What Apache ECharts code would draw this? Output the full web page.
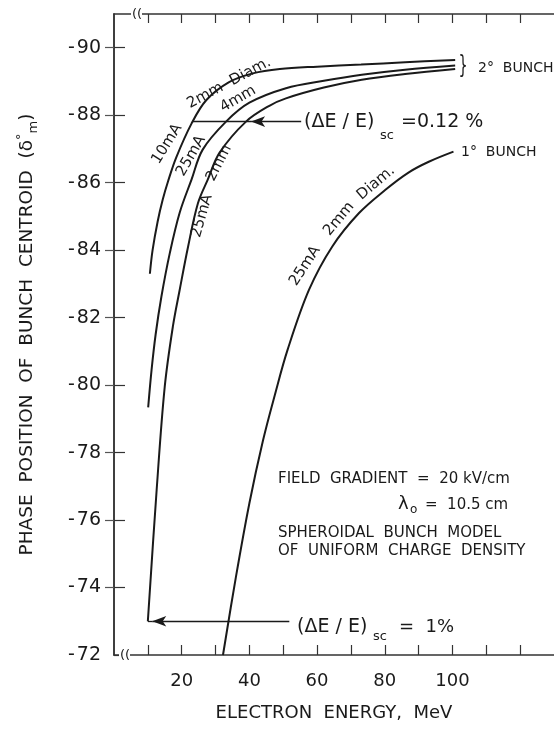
<!DOCTYPE html>
<html><head><meta charset="utf-8">
<script src="https://cdn.jsdelivr.net/npm/echarts@6/dist/echarts.min.js"></script>
<style>html,body{margin:0;padding:0;background:#fff}#c{width:554px;height:729px}</style>
</head><body><div id="c"></div>
<script>
// ---- data ----
const xTickValues = [10, 20, 30, 40, 50, 60, 70, 80, 90, 100, 110, 120];
const xLabelValues = [20, 40, 60, 80, 100];
const yLabelValues = [-90, -88, -86, -84, -82, -80, -78, -76, -74, -72];
const yRightTicks = [-90, -88, -86, -84, -82, -80, -78, -76, -74];

// 2° bunch, 10 mA, 2 mm diam.
const energyA = [10.6, 11.4, 12.9, 14.4, 16, 18.4, 22.9, 27.3, 34, 41, 49, 60, 73, 86, 100.8];
const phaseA  = [-83.3, -84.0, -84.85, -85.5, -86.05, -86.75, -87.75, -88.45, -88.98, -89.24, -89.37, -89.44, -89.5, -89.57, -89.64];
// 2° bunch, 25 mA, 4 mm
const energyB = [10.1, 11.1, 12.3, 14.0, 16.5, 19.4, 22.9, 26.2, 33.1, 40.0, 50.8, 62, 73.2, 86, 100.8];
const phaseB  = [-79.34, -80.45, -81.5, -82.62, -83.92, -85.11, -86.09, -86.98, -87.81, -88.37, -88.8, -89.02, -89.2, -89.35, -89.47];
// 2° bunch, 25 mA, 2 mm
const energyC = [10, 12.6, 15.0, 17.4, 19.4, 21.9, 24.8, 27.7, 31.2, 39.0, 45.9, 50.8, 62, 73.2, 86, 100.8];
const phaseC  = [-73.0, -76.89, -79.96, -81.74, -82.82, -84.11, -85.39, -86.09, -86.89, -87.81, -88.28, -88.5, -88.82, -89.05, -89.22, -89.37];
// 1° bunch, 25 mA, 2 mm diam.
const energyD = [32.2, 36, 40, 44, 47.5, 51.3, 57.6, 64.5, 72.4, 80.2, 87, 93, 100.3];
const phaseD  = [-72.0, -74.3, -76.5, -78.35, -79.7, -81.05, -82.82, -84.11, -85.1, -85.79, -86.3, -86.62, -86.92];

const zip = (xs, ys) => xs.map((x, i) => [x, ys[i]]);

const FONT = 'DejaVu Sans';
const INK = '#1a1a1a';

function T(x, y, text, size, rotDeg, align, extra) {
  return Object.assign({
    type: 'text', x: x, y: y, rotation: (rotDeg || 0) * Math.PI / 180, z: 100,
    style: { text: text, fontFamily: FONT, fontSize: size, fill: INK, align: align || 'center', verticalAlign: 'middle' }
  }, extra || {});
}

const lineStyle = { color: INK, width: 2 };
function curve(name, xs, ys, extra) {
  return Object.assign({
    name: name, type: 'line', data: zip(xs, ys), showSymbol: false, smooth: 0.35,
    lineStyle: lineStyle, silent: true, z: 5
  }, extra || {});
}

const chart = echarts.init(document.getElementById('c'), null, { renderer: 'canvas' });
const axisLineStyle = { color: '#333', width: 1.5 };
chart.setOption({
  animation: false,
  backgroundColor: '#fff',
  grid: { left: 114, top: 14, right: -3, bottom: 74, containLabel: false },
  xAxis: [{
    type: 'value', position: 'bottom', min: 0, max: 130,
    axisLine: { show: true, lineStyle: axisLineStyle },
    axisTick: { show: true, inside: true, length: 10, customValues: xTickValues, lineStyle: { color: '#333', width: 1.2 } },
    axisLabel: { customValues: xLabelValues, fontFamily: FONT, fontSize: 18, color: INK, margin: 17 },
    splitLine: { show: false },
    name: 'ELECTRON  ENERGY,  MeV', nameLocation: 'middle', nameGap: 49,
    nameTextStyle: { fontFamily: FONT, fontSize: 18, color: INK }
  }, {
    type: 'value', position: 'top', min: 0, max: 130,
    axisLine: { show: true, lineStyle: axisLineStyle },
    axisTick: { show: true, inside: true, length: 9, customValues: xTickValues, lineStyle: { color: '#333', width: 1.2 } },
    axisLabel: { show: false }, splitLine: { show: false }
  }],
  yAxis: [{
    type: 'value', position: 'left', min: -91, max: -72, inverse: true,
    axisLine: { show: true, lineStyle: axisLineStyle },
    axisTick: { show: true, inside: true, length: 11, customValues: yLabelValues, lineStyle: { color: '#333', width: 1.2 } },
    axisLabel: { customValues: yLabelValues, fontFamily: FONT, fontSize: 19, color: INK, margin: 13,
      formatter: v => '-\u200a' + Math.abs(v) },
    splitLine: { show: false },
    name: 'PHASE  POSITION  OF  BUNCH  CENTROID  ({d|δ}{sup|°}{sub|m})', nameLocation: 'middle', nameGap: 74,
    nameTextStyle: { fontFamily: FONT, fontSize: 18.5, color: INK,
      rich: {
        d: { fontFamily: FONT, fontSize: 18.5, color: INK },
        sup: { fontFamily: FONT, fontSize: 13, color: INK, padding: [0, 0, 12, 0] },
        sub: { fontFamily: FONT, fontSize: 13, color: INK, padding: [12, 0, 0, 0] }
      } }
  }, {
    type: 'value', position: 'right', min: -91, max: -72, inverse: true,
    axisLine: { show: true, lineStyle: axisLineStyle },
    axisTick: { show: true, inside: true, length: 9, customValues: yRightTicks, lineStyle: { color: '#555', width: 1.2 } },
    axisLabel: { show: false }, splitLine: { show: false }
  }],
  series: [
    curve('10mA 2mm Diam.', energyA, phaseA),
    curve('25mA 4mm', energyB, phaseB),
    curve('25mA 2mm', energyC, phaseC, {
      markLine: {
        silent: true, symbol: ['none', 'arrow'], symbolSize: [8, 14], precision: 3,
        lineStyle: { color: INK, width: 1.3, type: 'solid' }, label: { show: false },
        data: [
          [{ coord: [55.3, -87.81], symbol: 'none' }, { coord: [40.5, -87.81], symbol: 'arrow' }],
          [{ coord: [40.5, -87.81], symbol: 'none' }, { coord: [23.2, -87.81], symbol: 'none' }],
          [{ coord: [51.8, -73.0], symbol: 'none' }, { coord: [11.3, -73.0], symbol: 'arrow' }],
          [{ coord: [11.3, -73.0], symbol: 'none' }, { coord: [10.0, -73.0], symbol: 'none' }]
        ]
      }
    }),
    curve('1° bunch 25mA 2mm Diam.', energyD, phaseD)
  ],
  graphic: [
    // axis breaks
    { type: 'rect', shape: { x: 119, y: 650, width: 11, height: 10 }, style: { fill: '#fff' }, z: 99 },
    T(125, 656, '((', 13, 0),
    { type: 'rect', shape: { x: 131, y: 9, width: 11, height: 10 }, style: { fill: '#fff' }, z: 99 },
    T(137, 15, '((', 13, 0),
    // curve labels
    T(167, 144, '10mA', 15, 58),
    T(229, 83, '2mm  Diam.', 15, 28),
    T(191, 156, '25mA', 15, 60),
    T(238, 99, '4mm', 15, 30),
    T(219, 163, '2mm', 15, 63),
    T(202, 216, '25mA', 15, 74),
    T(305, 266, '25mA', 15, 57),
    T(339, 219, '2mm', 15, 50),
    T(376, 183, 'Diam.', 15, 40),
    // bunch labels
    T(463, 67, '}', 24, 0, 'center', { scaleX: 0.6 }),
    T(478, 68, '2°  BUNCH', 14, 0, 'left'),
    T(461, 152, '1°  BUNCH', 14, 0, 'left'),
    // dE/E = 0.12 %
    T(304, 122, '(ΔE / E)', 19, 0, 'left'),
    T(380, 136, 'sc', 13, 0, 'left'),
    T(401, 122, '=0.12 %', 19, 0, 'left'),
    // dE/E = 1 %
    T(297, 627, '(ΔE / E)', 19, 0, 'left'),
    T(373, 637, 'sc', 13, 0, 'left'),
    T(399, 627, '=  1%', 18, 0, 'left'),
    // notes
    T(278, 479, 'FIELD  GRADIENT  =  20 kV/cm', 15, 0, 'left'),
    T(398, 504, 'λ', 18, 0, 'left'),
    T(410, 510, 'o', 12, 0, 'left'),
    T(425, 505, '=  10.5 cm', 15, 0, 'left'),
    T(278, 533, 'SPHEROIDAL  BUNCH  MODEL', 15, 0, 'left'),
    T(278, 551, 'OF  UNIFORM  CHARGE  DENSITY', 15, 0, 'left')
  ]
});
</script>
</body></html>
